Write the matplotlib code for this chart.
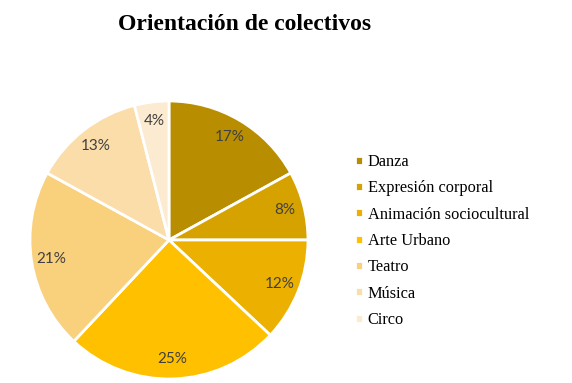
import matplotlib.pyplot as plt

categories = ['Danza', 'Expresión corporal', 'Animación sociocultural',
              'Arte Urbano', 'Teatro', 'Música', 'Circo']
shares = [17, 8, 12, 25, 21, 13, 4]
colors = ['#B88E00', '#D6A200', '#EBB000', '#FFC000',
          '#F9D07C', '#FBDDAA', '#FCEBD0']

fig = plt.figure(figsize=(5.72, 3.83), dpi=100)
ax = fig.add_axes([0.0524, 0.0104, 0.486, 0.726])

wedges, texts, autotexts = ax.pie(
    shares, colors=colors, startangle=90, counterclock=False,
    autopct='%1.0f%%', pctdistance=0.86,
    wedgeprops=dict(edgecolor='white', linewidth=2),
    textprops=dict(color='#404040', fontsize=11, family='Lato'))
ax.set_xlim(-1, 1)
ax.set_ylim(-1, 1)
ax.set_aspect('equal')

fig.text(0.428, 0.935, 'Orientación de colectivos', ha='center', va='center',
         fontsize=17, fontweight='bold', family='Liberation Serif')

fig.legend(wedges, categories, loc='upper left', bbox_to_anchor=(0.61, 0.615),
           frameon=False, prop=dict(family='Liberation Serif', size=11.8),
           handlelength=0.45, handleheight=0.45, handletextpad=0.3,
           labelspacing=0.63, borderaxespad=0)

fig.savefig('out.png', dpi=100)
